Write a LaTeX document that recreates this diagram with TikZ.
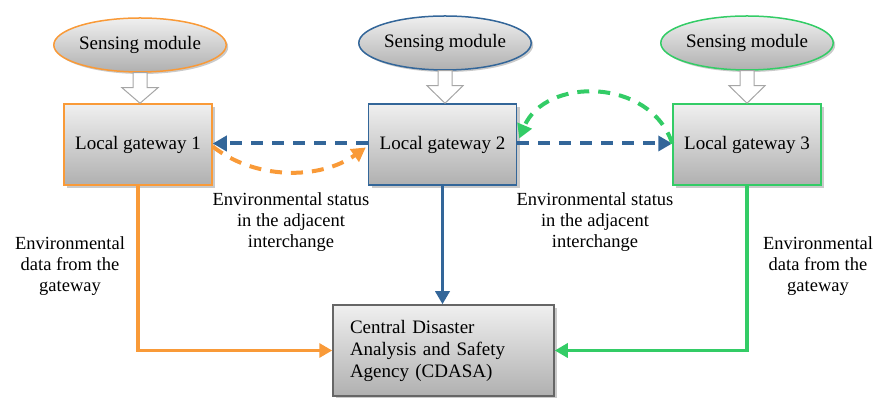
\documentclass[tikz,border=0pt]{standalone}
\usepackage{fontspec}
\setmainfont{Liberation Serif}
\usetikzlibrary{shapes.geometric,arrows.meta,shadows,calc}
\definecolor{cor}{HTML}{F99A38}
\definecolor{cbl}{HTML}{336699}
\definecolor{cgr}{HTML}{33CC66}
\tikzset{
  sens/.style={ellipse,draw=#1,line width=1.5pt,minimum width=144pt,minimum height=54pt,
    top color=gray!12,bottom color=gray!62,font=\fontsize{19}{21}\selectfont,inner sep=0pt,
    drop shadow={shadow xshift=2pt,shadow yshift=-2pt,fill=gray!70,opacity=.6}},
  gw/.style={rectangle,draw=#1,line width=1.5pt,minimum width=148pt,minimum height=81pt,
    top color=gray!12,bottom color=gray!62,font=\fontsize{19}{21}\selectfont,
    drop shadow={shadow xshift=3pt,shadow yshift=-3pt,fill=gray!70,opacity=.6}},
  hollow/.style={draw=gray!70,fill=white,line width=1pt},
  lbl/.style={align=center,font=\fontsize{18.5}{21}\selectfont,inner sep=0pt},
  dsh/.style={line width=4pt,dash pattern=on 12pt off 9pt,-{Triangle[length=14pt,width=15pt]}},
  sol/.style={line width=3.6pt,-{Triangle[length=13pt,width=14pt]}},
}
\begin{document}
\begin{tikzpicture}[x=1pt,y=1pt]
\useasboundingbox (0,0) rectangle (875,398);
% sensing modules
\node[sens=cor] (s1) at (140,353) {Sensing module};
\node[sens=cbl] (s2) at (445,355) {Sensing module};
\node[sens=cgr] (s3) at (747,355) {Sensing module};
% gateways
\node[gw=cor] (g1) at (138,253.5) {Local gateway 1};
\node[gw=cbl] (g2) at (442.5,253.5) {Local gateway 2};
\node[gw=cgr] (g3) at (747,253.5) {Local gateway 3};
% CDASA
\node[gw=gray!80!black,minimum width=221pt,minimum height=91pt,align=left,
  font=\fontsize{19}{22}\selectfont,text width=187pt,inner xsep=17pt] (c) at (443.5,47.5)
  {Central Disaster\\Analysis and Safety\\Agency (CDASA)};
% hollow arrows
\foreach \s/\g in {s1/g1,s2/g2,s3/g3}{
  \path (\s.south) coordinate (t) (\g.north) coordinate (b);
  \draw[hollow] ($(t)+(-7,0)$) -- ($(t)+(7,0)$) -- ($(t)+(7,-15)$) -- ($(t)+(18,-15)$)
     -- (b -| t) -- ($(t)+(-18,-15)$) -- ($(t)+(-7,-15)$) -- cycle;
}
% dashed connectors
\draw[dsh,cbl] ([yshift=1pt]g2.west) -- ([yshift=1pt]g1.east);
\draw[dsh,cbl] ([yshift=1pt]g2.east) -- ([yshift=1pt]g3.west);
\draw[dsh,cor] ([yshift=-2pt]g1.east) .. controls (255,218) and (320,218) .. ([xshift=-2pt,yshift=-3pt]g2.west);
\draw[dsh,cgr] ([yshift=1pt]g3.west) .. controls (650,321) and (545,321) .. ([xshift=2pt,yshift=6pt]g2.east);
% labels
\node[lbl] (l1) at (291,176) {Environmental status\\in the adjacent\\interchange};
\node[lbl] (l2) at (595,176) {Environmental status\\in the adjacent\\interchange};
\node[lbl] (l3) at (70,132) {Environmental\\data from the\\gateway};
\node[lbl] (l4) at (818,132) {Environmental\\data from the\\gateway};
% solid connectors
\draw[sol,cor] (g1.south) |- (c.west);
\draw[sol,cbl] (g2.south) -- (g2.south |- c.north);
\draw[sol,cgr] (g3.south) |- (c.east);
\end{tikzpicture}
\end{document}
